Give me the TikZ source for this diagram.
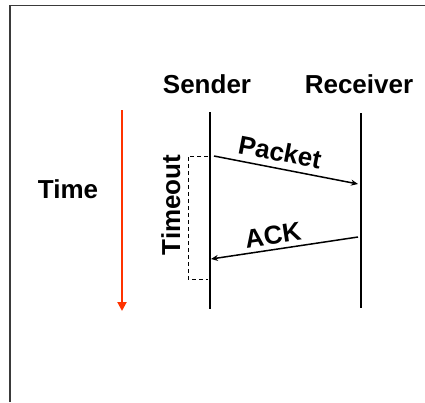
\documentclass[tikz,border=0pt]{standalone}
\usepackage{fontspec}
\setmainfont{Liberation Sans}
\usetikzlibrary{arrows.meta}
\definecolor{timered}{HTML}{FF3300}
\definecolor{framegray}{HTML}{3A3A3A}
\tikzset{
  lbl/.style={font=\bfseries\fontsize{26}{30}\selectfont, inner sep=0pt},
  lifeline/.style={line width=2pt, black},
  msg/.style={line width=1.5pt, black, -{Stealth[length=7pt,width=6pt]}},
  bracket/.style={line width=0.8pt, black, dash pattern=on 4pt off 3pt},
}
\begin{document}
\begin{tikzpicture}[x=1pt,y=-1pt]
\useasboundingbox (0,0) rectangle (425,402);
\draw[framegray, line width=1.4pt] (10,402) -- (10,5.5) -- (425,5.5);
% labels
\node[lbl, anchor=base] (sender) at (207,93) {Sender};
\node[lbl, anchor=base] (receiver) at (359,93) {Receiver};
\node[lbl, anchor=base] (time) at (68,198) {Time};
% time arrow
\coordinate (t1) at (122,110);
\coordinate (t2) at (122,311);
\draw[timered, line width=2pt, -{Triangle[length=9pt,width=9pt]}] (t1) -- (t2);
% lifelines
\coordinate (s1) at (210,112);
\coordinate (s2) at (210,309);
\coordinate (r1) at (361,113);
\coordinate (r2) at (361,308);
\draw[lifeline] (s1) -- (s2);
\draw[lifeline] (r1) -- (r2);
% messages
\coordinate (p1) at (214,156);
\coordinate (p2) at (358,184);
\coordinate (a1) at (358,237);
\coordinate (a2) at (211,259);
\draw[msg] (p1) -- (p2);
\draw[msg] (a1) -- (a2);
\node[lbl, rotate=-11] (packet) at (280,152) {Packet};
\node[lbl, rotate=8.5] (ack) at (273,235) {ACK};
% timeout bracket
\coordinate (b1) at (208,156);
\coordinate (b2) at (188,156);
\coordinate (b3) at (188,279);
\coordinate (b4) at (208,279);
\draw[bracket] (b1) -- (b2) -- (b3) -- (b4);
\node[lbl, rotate=90, anchor=base] (timeout) at (180,205) {Timeout};
\end{tikzpicture}
\end{document}
